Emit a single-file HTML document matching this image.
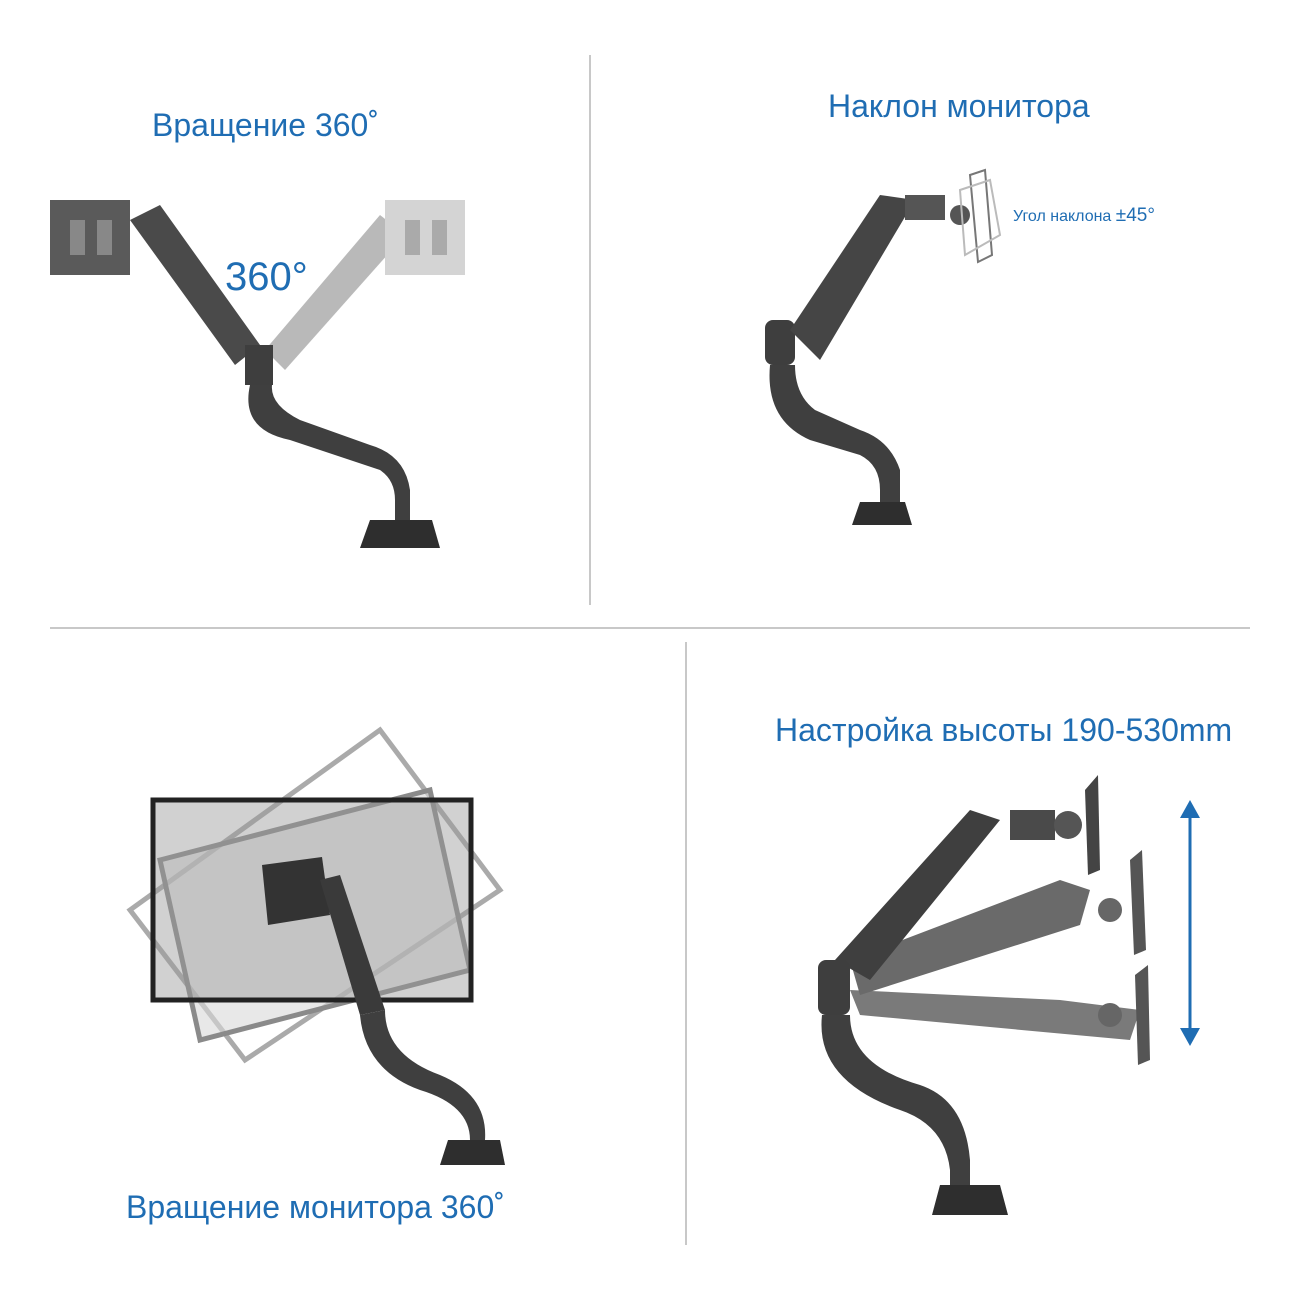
<!DOCTYPE html>
<html><head><meta charset="utf-8"><style>
html,body{margin:0;padding:0;background:#fff;}
body{width:1300px;height:1300px;position:relative;overflow:hidden;font-family:"Liberation Sans",sans-serif;}
.t{position:absolute;color:#1f6db3;white-space:nowrap;}
svg{position:absolute;left:0;top:0;}
</style></head><body>
<svg width="1300" height="1300" viewBox="0 0 1300 1300">
<line x1="590" y1="55" x2="590" y2="605" stroke="#c8c8c8" stroke-width="2"/>
<line x1="50" y1="628" x2="1250" y2="628" stroke="#c8c8c8" stroke-width="2"/>
<line x1="686" y1="642" x2="686" y2="1245" stroke="#c8c8c8" stroke-width="2"/>

<g>
 <polygon points="265,350 380,215 405,235 285,370" fill="#b9b9b9"/>
 <rect x="385" y="200" width="80" height="75" fill="#d4d4d4"/>
 <rect x="405" y="220" width="15" height="35" fill="#aaa"/>
 <rect x="432" y="220" width="15" height="35" fill="#aaa"/>
 <polygon points="130,220 160,205 260,345 235,365" fill="#4a4a4a"/>
 <rect x="50" y="200" width="80" height="75" fill="#5a5a5a"/>
 <rect x="70" y="220" width="15" height="35" fill="#888"/>
 <rect x="97" y="220" width="15" height="35" fill="#888"/>
 <rect x="245" y="345" width="28" height="40" fill="#3e3e3e"/>
 <path d="M250,385 Q240,430 290,440 L380,470 Q395,480 395,500 L395,530 L410,530 L410,490 Q405,455 370,445 L300,420 Q270,405 272,385 Z" fill="#3f3f3f"/>
 <polygon points="360,548 370,520 432,520 440,548" fill="#2e2e2e"/>
</g>

<g>
 <rect x="765" y="320" width="30" height="45" rx="8" fill="#3e3e3e"/>
 <polygon points="790,330 880,195 915,200 820,360" fill="#454545"/>
 <rect x="905" y="195" width="40" height="25" fill="#555"/>
 <circle cx="960" cy="215" r="10" fill="#555"/>
 <polygon points="970,175 985,170 992,255 978,262" fill="none" stroke="#777" stroke-width="2"/>
 <polygon points="960,190 990,180 1000,235 965,255" fill="none" stroke="#bbb" stroke-width="2"/>
 <path d="M770,365 Q765,420 810,440 L860,455 Q880,465 880,490 L880,505 L900,505 L900,470 Q890,440 860,430 L815,410 Q795,395 795,365 Z" fill="#3f3f3f"/>
 <polygon points="852,525 860,502 905,502 912,525" fill="#2e2e2e"/>
</g>

<g>
 <polygon points="130,910 380,730 500,890 245,1060" fill="none" stroke="#aaa" stroke-width="5"/>
 <polygon points="160,860 430,790 470,970 200,1040" fill="#d8d8d8" stroke="#8a8a8a" stroke-width="5" fill-opacity="0.6"/>
 <rect x="153" y="800" width="318" height="200" fill="#999" fill-opacity="0.45" stroke="#222" stroke-width="5"/>
 <polygon points="262,865 322,857 330,915 268,925" fill="#333"/>
 <polygon points="320,880 340,875 385,1010 360,1015" fill="#3a3a3a"/>
 <path d="M360,1015 Q365,1070 420,1090 Q470,1105 470,1140 L485,1140 Q488,1095 440,1075 Q385,1055 385,1010 Z" fill="#3f3f3f"/>
 <polygon points="440,1165 448,1140 500,1140 505,1165" fill="#2e2e2e"/>
</g>

<g>
 <polygon points="850,990 1060,1000 1140,1010 1130,1040 860,1015" fill="#7a7a7a"/>
 <polygon points="850,960 1060,880 1090,890 1080,925 860,995" fill="#6a6a6a"/>
 <polygon points="835,960 970,810 1000,820 870,980" fill="#3f3f3f"/>
 <rect x="1010" y="810" width="45" height="30" fill="#4a4a4a"/>
 <circle cx="1068" cy="825" r="14" fill="#555"/>
 <polygon points="1085,790 1098,775 1100,870 1088,875" fill="#444"/>
 <circle cx="1110" cy="910" r="12" fill="#666"/>
 <polygon points="1130,860 1142,850 1146,950 1134,955" fill="#555"/>
 <circle cx="1110" cy="1015" r="12" fill="#666"/>
 <polygon points="1135,975 1148,965 1150,1060 1138,1065" fill="#555"/>
 <rect x="818" y="960" width="32" height="55" rx="8" fill="#3e3e3e"/>
 <path d="M822,1015 Q815,1080 900,1110 Q945,1125 950,1170 L950,1185 L970,1185 L970,1160 Q965,1100 920,1085 Q850,1065 850,1015 Z" fill="#3f3f3f"/>
 <polygon points="932,1215 940,1185 1000,1185 1008,1215" fill="#2e2e2e"/>
 <line x1="1190" y1="815" x2="1190" y2="1033" stroke="#1f6db3" stroke-width="3"/>
 <polygon points="1180,818 1190,800 1200,818" fill="#1f6db3"/>
 <polygon points="1180,1028 1190,1046 1200,1028" fill="#1f6db3"/>
</g>
</svg>

<div class="t" style="left:152px;top:107px;font-size:32px;">Вращение 360˚</div>
<div class="t" style="left:225px;top:255px;font-size:40px;">360°</div>
<div class="t" style="left:828px;top:88px;font-size:32px;">Наклон монитора</div>
<div class="t" style="left:1013px;top:205px;font-size:16px;">Угол наклона <span style="font-size:19px">±45°</span></div>
<div class="t" style="left:775px;top:712px;font-size:32px;">Настройка высоты 190-530mm</div>
<div class="t" style="left:126px;top:1189px;font-size:32px;">Вращение монитора 360˚</div>
</body></html>
